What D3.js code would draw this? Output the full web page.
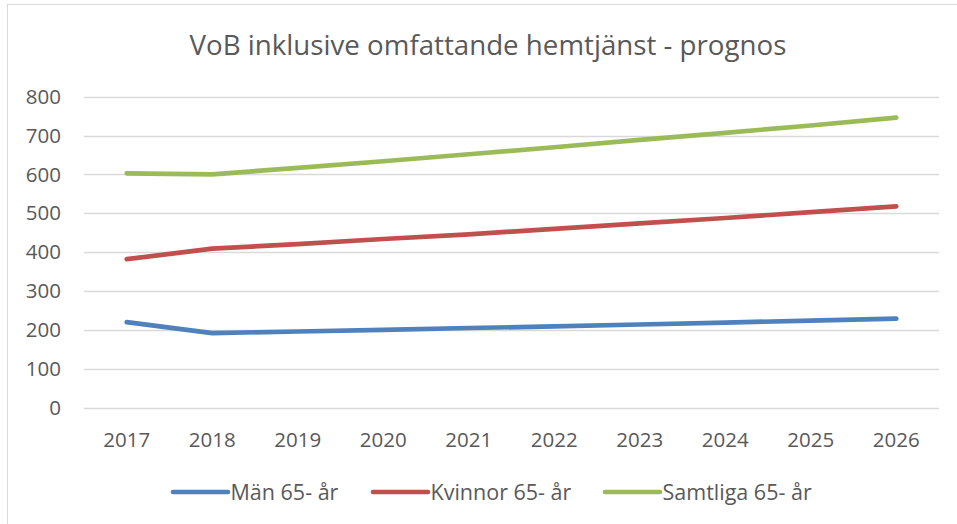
<!DOCTYPE html>
<html>
<head>
<meta charset="utf-8">
<script src="https://cdn.jsdelivr.net/npm/d3@7"></script>
<style>
    body { margin: 0; background: #fff; }
    svg { display: block; font-family: "Open Sans", sans-serif; }
</style>
</head>
<body>
<svg id="chart"></svg>
<script>
var title = "VoB inklusive omfattande hemtjänst - prognos";
var years = ["2017", "2018", "2019", "2020", "2021", "2022", "2023", "2024", "2025", "2026"];
var yTicks = [0, 100, 200, 300, 400, 500, 600, 700, 800];

var seriesNames = ["Män 65- år", "Kvinnor 65- år", "Samtliga 65- år"];
var seriesColors = ["#4f81bd", "#c0504d", "#9bbb59"];
var man = [220, 192, 196, 200, 205, 209, 214, 219, 224, 229];
var kvinnor = [382, 409, 421, 434, 446, 460, 474, 488, 503, 518];
var samtliga = [603, 600, 617, 634, 652, 670, 689, 707, 726, 746];

(function () {
    var width = 957;
    var height = 524;
    var textColor = "#595959";
    var gridColor = "#d9d9d9";

    var svg = d3.select("#chart").attr("width", width).attr("height", height);

    // chart border, the right and bottom edges fall outside the picture
    svg.append("rect")
        .attr("x", 7.5).attr("y", 4.5)
        .attr("width", 960).attr("height", 530)
        .attr("fill", "none")
        .attr("stroke", gridColor);

    var x = d3.scaleBand().domain(years).range([84, 939]);
    var y = d3.scaleLinear().domain([0, 800]).range([407.7, 96.7]);

    var titleText = svg.append("text")
        .attr("x", 488).attr("y", 55)
        .attr("text-anchor", "middle")
        .attr("fill", textColor)
        .style("font-size", "28px")
        .text(title);
    var tw = titleText.node().getComputedTextLength();
    titleText.style("font-size", (28 * 597 / tw) + "px");

    // gridlines
    svg.append("g").selectAll("line")
        .data(yTicks)
        .enter()
        .append("line")
        .attr("x1", 84).attr("x2", 939)
        .attr("y1", function (d) { return Math.round(y(d)) + 0.5; })
        .attr("y2", function (d) { return Math.round(y(d)) + 0.5; })
        .attr("stroke", gridColor)
        .attr("stroke-width", 1.3);

    var yAxis = svg.append("g")
        .attr("transform", "translate(61,0)")
        .call(d3.axisLeft(y).tickValues(yTicks).tickSize(0).tickPadding(0));
    yAxis.select(".domain").remove();
    yAxis.selectAll("text")
        .attr("fill", textColor)
        .style("font-size", "20.5px")
        .style("font-family", "'Open Sans', sans-serif");

    var xAxis = svg.append("g")
        .attr("transform", "translate(0,408)")
        .call(d3.axisBottom(x).tickSize(0).tickPadding(0));
    xAxis.select(".domain").remove();
    xAxis.selectAll("text")
        .attr("dy", null)
        .attr("y", 38.7)
        .attr("fill", textColor)
        .style("font-size", "20.5px")
        .style("font-family", "'Open Sans', sans-serif");

    var line = d3.line()
        .x(function (d, i) { return x(years[i]) + x.bandwidth() / 2; })
        .y(function (d) { return y(d); });

    svg.append("g").selectAll("path")
        .data([man, kvinnor, samtliga])
        .enter()
        .append("path")
        .attr("d", line)
        .attr("fill", "none")
        .attr("stroke", function (d, i) { return seriesColors[i]; })
        .attr("stroke-width", 4.7)
        .attr("stroke-linecap", "round")
        .attr("stroke-linejoin", "round");

    // legend
    var legendX = [173, 373, 605];
    var legend = svg.append("g").selectAll("g")
        .data(seriesNames)
        .enter()
        .append("g")
        .attr("transform", function (d, i) { return "translate(" + legendX[i] + ",492)"; });

    legend.append("line")
        .attr("x1", 0).attr("x2", 55)
        .attr("stroke", function (d, i) { return seriesColors[i]; })
        .attr("stroke-width", 4.7)
        .attr("stroke-linecap", "round");

    legend.append("text")
        .attr("x", 57.5).attr("y", 7.5)
        .attr("fill", textColor)
        .style("font-size", "21.5px")
        .text(function (d) { return d; });
})();
</script>
</body>
</html>
